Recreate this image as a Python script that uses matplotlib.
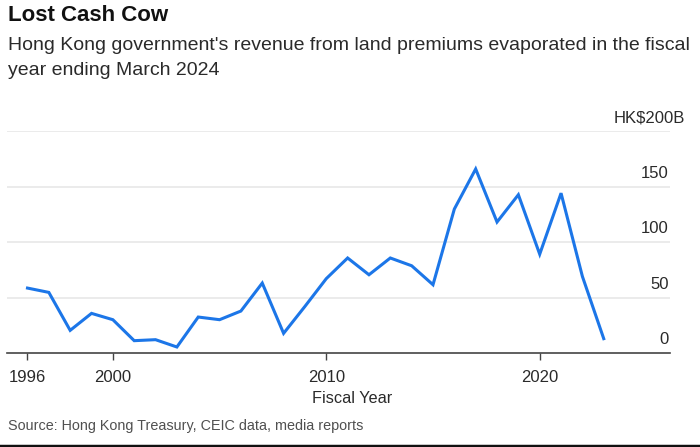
import matplotlib
matplotlib.use("Agg")
import matplotlib.pyplot as plt
from matplotlib.lines import Line2D
import matplotlib.transforms as mtransforms

plt.rcParams['font.family'] = ['Liberation Sans', 'DejaVu Sans']

# fiscal year (start year) and land premium revenue, HK$ billions
years = list(range(1996, 2024))
revenue = [58.5, 54.6, 20.4, 35.7, 30.0, 11.1, 12.0, 5.4, 32.4, 30.0,
           37.8, 63.0, 17.7, 42.0, 67.0, 85.6, 70.5, 85.6, 78.6, 61.5,
           129.7, 165.8, 118.0, 142.6, 89.0, 144.0, 69.0, 12.9]

xticks = [1996, 2000, 2010, 2020]
yticks = [0, 50, 100, 150, 200]
ylabels = ['0', '50', '100', '150', 'HK$200B']

TEXT = '#2a2a2a'
GRID = '#e8e8e8'
BLUE = '#1c76e8'

fig = plt.figure(figsize=(7.0, 4.47), dpi=100)
ax = fig.add_axes([0.01, 0.2103, 0.947, 0.4966])

ax.plot(years, revenue, color=BLUE, linewidth=2.2, solid_joinstyle='miter', zorder=3)

ax.set_xlim(1995.04, 2026.1)
ax.set_ylim(0, 200)

for s in ['top', 'left', 'right']:
    ax.spines[s].set_visible(False)
ax.spines['bottom'].set_color('#444444')
ax.spines['bottom'].set_linewidth(1.2)

ax.set_yticks(yticks[1:])
ax.yaxis.grid(True, color=GRID, linewidth=1.2)
ax.tick_params(axis='y', length=0, labelleft=False, labelright=False)
ax.set_axisbelow(True)

ax.set_xticks(xticks)
ax.set_xticklabels([str(x) for x in xticks], fontsize=12, color=TEXT)
ax.tick_params(axis='x', length=5, width=1, color='#444444', pad=7)

# value labels sit above the gridlines at the right edge
trans = mtransforms.blended_transform_factory(ax.transAxes, ax.transData)
for v, lab in zip(yticks, ylabels):
    xpos = 0.9985 if v < 200 else 1.0225
    ax.text(xpos, v + 5, lab, transform=trans, ha='right', va='bottom',
            fontsize=12, color=TEXT)

fig.text(0.503, 0.108, 'Fiscal Year', ha='center', va='center', fontsize=11.7, color=TEXT)

fig.text(0.011, 0.966, 'Lost Cash Cow', ha='left', va='center', fontsize=16,
         fontweight='bold', color='#111111')
fig.text(0.011, 0.898, "Hong Kong government's revenue from land premiums evaporated in the fiscal",
         ha='left', va='center', fontsize=14, color=TEXT)
fig.text(0.011, 0.842, 'year ending March 2024', ha='left', va='center', fontsize=14, color=TEXT)
fig.text(0.011, 0.047, 'Source: Hong Kong Treasury, CEIC data, media reports', ha='left',
         va='center', fontsize=10.4, color='#505050')

fig.add_artist(Line2D([0, 1], [0.003, 0.003], transform=fig.transFigure, color='#111111', linewidth=2.5))

fig.savefig('out.png', dpi=100)
